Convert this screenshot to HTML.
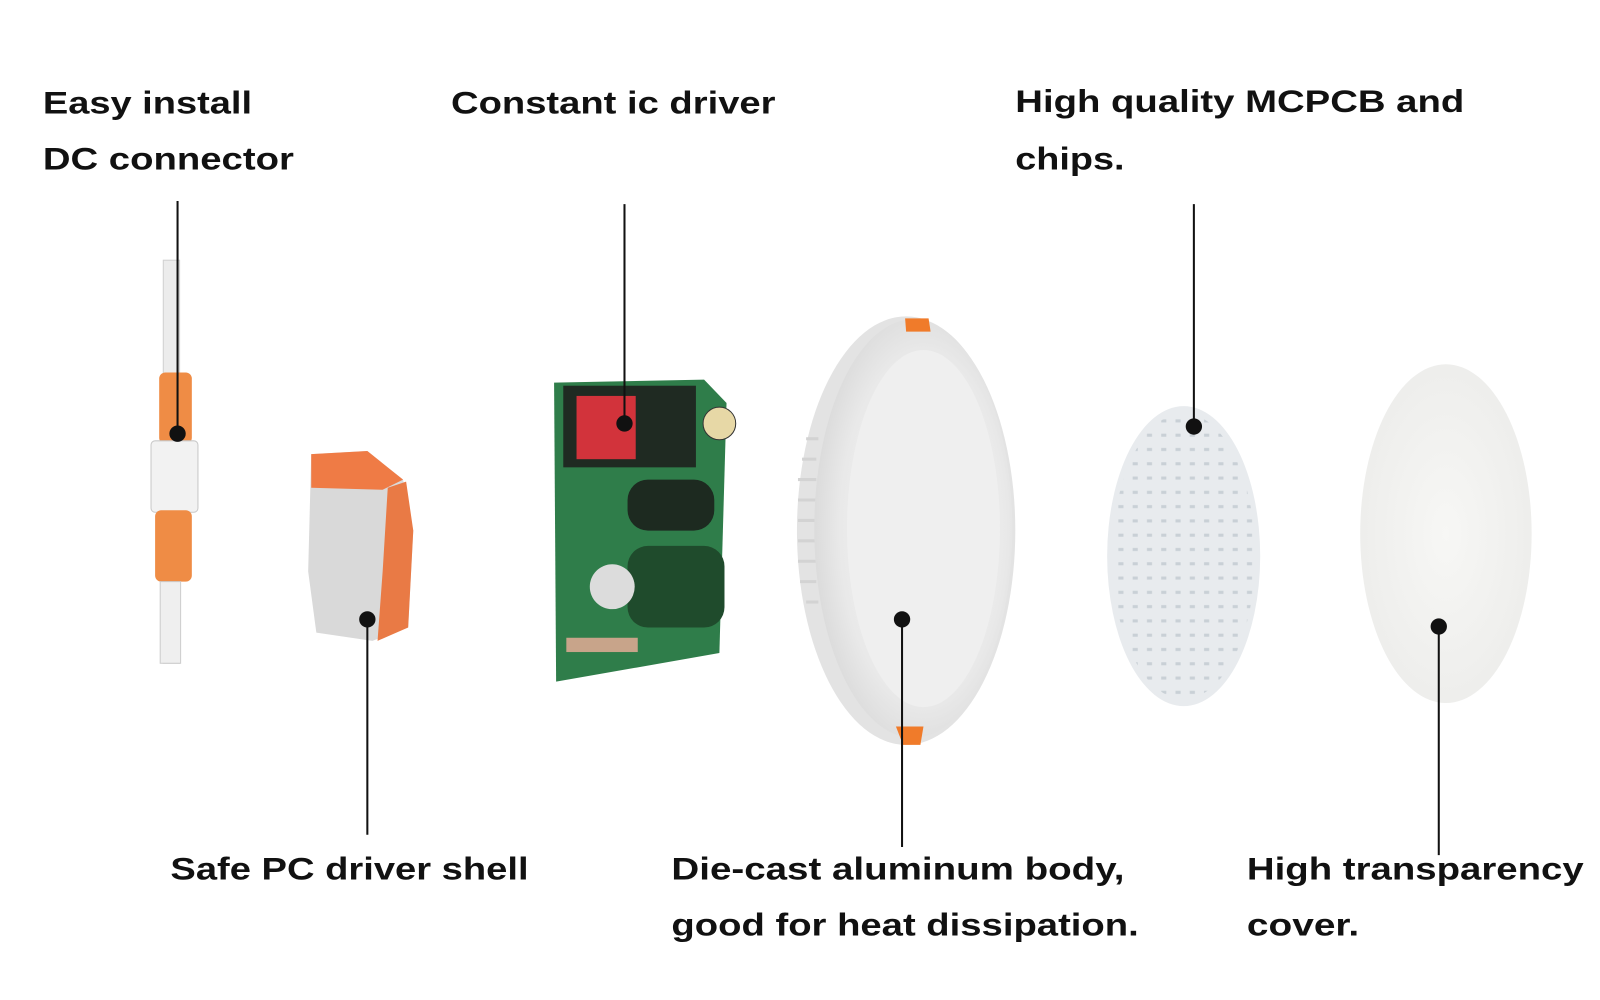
<!DOCTYPE html>
<html><head><meta charset="utf-8">
<style>
html,body{margin:0;padding:0;background:#fff;}
svg{display:block;}
text{font-family:"Liberation Sans",sans-serif;font-weight:bold;font-size:31px;fill:#111;}
</style></head>
<body>
<svg width="1600" height="1000" viewBox="0 0 1568 980" preserveAspectRatio="none" xmlns="http://www.w3.org/2000/svg">
<defs>
<radialGradient id="dl" cx="0.55" cy="0.5" r="0.6"><stop offset="0" stop-color="#f4f4f4"/><stop offset="0.7" stop-color="#e9e9e9"/><stop offset="1" stop-color="#d6d6d6"/></radialGradient>
<radialGradient id="cv" cx="0.5" cy="0.5" r="0.6"><stop offset="0" stop-color="#f7f7f5"/><stop offset="1" stop-color="#ececea"/></radialGradient>
<pattern id="leds" width="14" height="14" patternUnits="userSpaceOnUse"><rect x="4" y="5" width="5" height="3" fill="#c9d0d6"/></pattern>
</defs>
<rect width="1568" height="980" fill="#fff"/>

<!-- labels -->
<text x="42" y="111" textLength="205" lengthAdjust="spacingAndGlyphs">Easy install</text>
<text x="42" y="166" textLength="246" lengthAdjust="spacingAndGlyphs">DC connector</text>
<text x="442" y="111" textLength="318" lengthAdjust="spacingAndGlyphs">Constant ic driver</text>
<text x="995" y="110" textLength="440" lengthAdjust="spacingAndGlyphs">High quality MCPCB and</text>
<text x="995" y="166" textLength="107" lengthAdjust="spacingAndGlyphs">chips.</text>
<text x="167" y="862" textLength="351" lengthAdjust="spacingAndGlyphs">Safe PC driver shell</text>
<text x="658" y="862" textLength="444" lengthAdjust="spacingAndGlyphs">Die-cast aluminum body,</text>
<text x="658" y="917" textLength="458" lengthAdjust="spacingAndGlyphs">good for heat dissipation.</text>
<text x="1222" y="862" textLength="330" lengthAdjust="spacingAndGlyphs">High transparency</text>
<text x="1222" y="917" textLength="110" lengthAdjust="spacingAndGlyphs">cover.</text>

<!-- cable -->
<rect x="160" y="255" width="16" height="395" fill="#ececec" stroke="#d0d0d0"/>
<rect x="156" y="365" width="32" height="70" rx="6" fill="#ef8c45"/>
<rect x="148" y="432" width="46" height="70" rx="4" fill="#f2f2f2" stroke="#c8c8c8"/>
<rect x="152" y="500" width="36" height="70" rx="6" fill="#ef8c45"/>
<rect x="157" y="570" width="20" height="80" fill="#efefef" stroke="#ccc"/>

<!-- driver shell -->
<path d="M305 445 L360 442 L395 470 L405 520 L400 615 L365 628 L310 620 L302 560 Z" fill="#d9d9d9"/>
<path d="M305 445 L360 442 L395 470 L375 480 L305 478 Z" fill="#ef7b45"/>
<path d="M380 478 L398 472 L405 520 L400 615 L370 628 L375 560 Z" fill="#e97a45"/>

<!-- PCB -->
<path d="M543 375 L690 372 L712 395 L705 640 L545 668 Z" fill="#2f7d4a"/>
<rect x="552" y="378" width="130" height="80" fill="#1f2a22"/>
<rect x="565" y="388" width="58" height="62" fill="#d2333b"/>
<circle cx="705" cy="415" r="16" fill="#e7d8a6" stroke="#333"/>
<rect x="615" y="470" width="85" height="50" rx="20" fill="#1d2a20"/>
<rect x="615" y="535" width="95" height="80" rx="20" fill="#1f4b2c"/>
<circle cx="600" cy="575" r="22" fill="#dcdcdc"/>
<rect x="555" y="625" width="70" height="14" fill="#c8a48a"/>

<!-- downlight -->
<ellipse cx="888" cy="520" rx="107" ry="210" fill="#e3e3e3"/>
<g stroke="#d3d3d3" stroke-width="3">
<line x1="782" y1="470" x2="800" y2="470"/><line x1="782" y1="490" x2="800" y2="490"/><line x1="782" y1="510" x2="800" y2="510"/><line x1="782" y1="530" x2="800" y2="530"/><line x1="782" y1="550" x2="800" y2="550"/><line x1="784" y1="570" x2="800" y2="570"/><line x1="786" y1="450" x2="800" y2="450"/><line x1="790" y1="430" x2="802" y2="430"/><line x1="790" y1="590" x2="802" y2="590"/>
</g>
<ellipse cx="895" cy="518" rx="97" ry="205" fill="url(#dl)"/>
<ellipse cx="905" cy="518" rx="75" ry="175" fill="#efefef"/>
<path d="M887 312 L910 312 L912 325 L888 325 Z" fill="#f07b2a"/>
<path d="M878 712 L905 712 L902 730 L885 730 Z" fill="#f07b2a"/>

<!-- MCPCB -->
<ellipse cx="1160" cy="545" rx="75" ry="147" fill="#e8ebee"/>
<ellipse cx="1160" cy="545" rx="70" ry="140" fill="url(#leds)"/>

<!-- cover -->
<ellipse cx="1417" cy="523" rx="84" ry="166" fill="url(#cv)"/>

<!-- callout lines -->
<g stroke="#111" stroke-width="2">
<line x1="174" y1="197" x2="174" y2="425"/>
<line x1="612" y1="200" x2="612" y2="415"/>
<line x1="1170" y1="200" x2="1170" y2="418"/>
<line x1="360" y1="607" x2="360" y2="818"/>
<line x1="884" y1="607" x2="884" y2="830"/>
<line x1="1410" y1="614" x2="1410" y2="838"/>
</g>
<g fill="#111">
<circle cx="174" cy="425" r="8"/>
<circle cx="612" cy="415" r="8"/>
<circle cx="1170" cy="418" r="8"/>
<circle cx="360" cy="607" r="8"/>
<circle cx="884" cy="607" r="8"/>
<circle cx="1410" cy="614" r="8"/>
</g>
</svg>
</body></html>
